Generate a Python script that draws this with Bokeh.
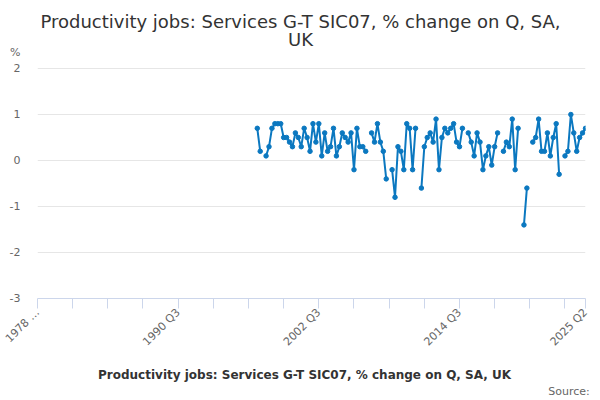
import math
import numpy as np
from bokeh.plotting import figure
from bokeh.layouts import column
from bokeh.models import Range1d, FixedTicker, Legend, LegendItem, ColumnDataSource
from bokeh.core.properties import value
from bokeh.embed import file_html
from bokeh.resources import INLINE

# ---------------- data ----------------
title_line1 = "Productivity jobs: Services G-T SIC07, % change on Q, SA,"
title_line2 = "UK"
series_name = "Productivity jobs: Services G-T SIC07, % change on Q, SA, UK"
y_unit_label = "%"
source_text = "Source:"

axis_first_quarter = (1978, 3)
axis_last_quarter = (2025, 2)
series_first_quarter = (1997, 2)

# % change on quarter, 1997 Q2 .. 2025 Q2 (None = no value plotted)
values = [
    0.7, 0.2, None, 0.1, 0.3, 0.7, 0.8, 0.8, 0.8, 0.5,
    0.5, 0.4, 0.3, 0.6, 0.5, 0.3, 0.7, 0.5, 0.2, 0.8,
    0.4, 0.8, 0.1, 0.6, 0.2, 0.3, 0.7, 0.1, 0.3, 0.6,
    0.5, 0.4, 0.6, -0.2, 0.7, 0.3, 0.3, 0.2, None, 0.6,
    0.4, 0.8, 0.4, 0.2, -0.4, None, -0.2, -0.8, 0.3, 0.2,
    -0.2, 0.8, 0.7, -0.2, 0.7, None, -0.6, 0.3, 0.5, 0.6,
    0.4, 0.9, -0.2, 0.5, 0.7, 0.6, 0.7, 0.8, 0.4, 0.3,
    0.7, None, 0.6, 0.4, 0.1, 0.6, 0.4, -0.2, 0.1, 0.3,
    -0.1, 0.3, 0.6, None, 0.2, 0.4, 0.3, 0.9, -0.2, 0.7,
    None, -1.4, -0.6, None, 0.4, 0.5, 0.9, 0.2, 0.2, 0.6,
    0.1, 0.5, 0.8, -0.3, None, 0.1, 0.2, 1.0, 0.6, 0.2,
    0.5, 0.6, 0.7,
]

y_ticks = [-3, -2, -1, 0, 1, 2]
y_tick_labels = ["-3", "-2", "-1", "0", "1", "2"]
x_tick_step_quarters = 12
x_label_quarters = [(1978, 3), (1990, 3), (2002, 3), (2014, 3), (2025, 2)]
x_label_texts = ["1978 \u2026", "1990 Q3", "2002 Q3", "2014 Q3", "2025 Q2"]

# ---------------- styling / layout (page pixels) ----------------
BLUE = "#0b78c0"
TEXT_DARK = "#333333"
TEXT_GREY = "#666666"
GRID = "#e6e6e6"
AXIS = "#ccd6eb"
FONT = "DejaVu Sans"
PAGE_W = 600
MAIN_H = 360
BOT_H = 40
FRAME_L, FRAME_R = 37, 585          # plot area left/right
GRID_TOP_PX, FRAME_B_PX = 68, 298   # pixel rows of top gridline and x axis


def qindex(year, q):
    return (year - axis_first_quarter[0]) * 4 + (q - axis_first_quarter[1])


last_idx = qindex(*axis_last_quarter)
start_idx = qindex(*series_first_quarter)
xs = np.arange(start_idx, start_idx + len(values), dtype=float)
ys = np.array([np.nan if v is None else v for v in values], dtype=float)
source = ColumnDataSource(dict(x=xs, y=ys))

y_min, y_max = min(y_ticks), max(y_ticks)
px_per_unit = (FRAME_B_PX - GRID_TOP_PX) / (y_max - y_min)
y_top = y_max + GRID_TOP_PX / px_per_unit   # frame reaches the top of the page


def dx(page_x):
    return (page_x - FRAME_L) / (FRAME_R - FRAME_L) * last_idx


def dy(page_y):
    return y_max + (GRID_TOP_PX - page_y) / px_per_unit


# ---------------- main chart ----------------
p = figure(width=PAGE_W, height=MAIN_H, output_backend="svg", toolbar_location=None,
           x_range=Range1d(0, last_idx), y_range=Range1d(y_min, y_top),
           min_border_left=FRAME_L, min_border_right=PAGE_W - FRAME_R,
           min_border_top=0, min_border_bottom=MAIN_H - FRAME_B_PX)
p.outline_line_color = None
p.background_fill_color = "white"
p.border_fill_color = "white"

p.xgrid.visible = False
p.ygrid.ticker = FixedTicker(ticks=y_ticks)
p.ygrid.grid_line_color = GRID
p.ygrid.grid_line_width = 1

unit_tick = round(dy(52), 2)
p.yaxis.ticker = FixedTicker(ticks=y_ticks + [unit_tick])
y_over = {t: s for t, s in zip(y_ticks, y_tick_labels)}
y_over[unit_tick] = y_unit_label
p.yaxis.major_label_overrides = y_over
p.yaxis.axis_line_color = None
p.yaxis.major_tick_line_color = None
p.yaxis.minor_tick_line_color = None
p.yaxis.major_tick_out = 0
p.yaxis.major_tick_in = 0
p.yaxis.major_label_standoff = 17
p.yaxis.major_label_text_font = FONT
p.yaxis.major_label_text_font_size = "11px"
p.yaxis.major_label_text_color = TEXT_GREY

x_ticks = list(range(0, last_idx + 1, x_tick_step_quarters))
if x_ticks[-1] != last_idx:
    x_ticks.append(last_idx)
overrides = {t: "" for t in x_ticks}
for q, txt in zip(x_label_quarters, x_label_texts):
    overrides[qindex(*q)] = txt
p.xaxis.ticker = FixedTicker(ticks=x_ticks)
p.xaxis.major_label_overrides = overrides
p.xaxis.major_label_orientation = math.pi / 4
p.xaxis.axis_line_color = AXIS
p.xaxis.major_tick_line_color = AXIS
p.xaxis.minor_tick_line_color = None
p.xaxis.major_tick_out = 10
p.xaxis.major_tick_in = 0
p.xaxis.major_label_standoff = 2
p.xaxis.major_label_text_font = FONT
p.xaxis.major_label_text_font_size = "11px"
p.xaxis.major_label_text_color = TEXT_GREY

p.line("x", "y", source=source, line_color=BLUE, line_width=2)
p.scatter("x", "y", source=source, size=4.5, fill_color=BLUE, line_color=BLUE)

# title inside the (tall) frame area above the gridlines
p.text(x=[dx(300), dx(300)], y=[dy(21), dy(39)], text=[title_line1, title_line2],
       text_align="center", text_baseline="middle", text_font=value(FONT),
       text_font_size=value("18px"), text_color=TEXT_DARK)

# ---------------- footer (legend + source) ----------------
BOT_FRAME_B = 383
p_bot = figure(width=PAGE_W, height=BOT_H, output_backend="svg", toolbar_location=None,
               x_range=Range1d(FRAME_L, FRAME_R), y_range=Range1d(0, 1),
               y_axis_location=None,
               min_border_left=FRAME_L, min_border_right=PAGE_W - FRAME_R,
               min_border_top=0, min_border_bottom=MAIN_H + BOT_H - BOT_FRAME_B)
p_bot.xgrid.visible = False
p_bot.ygrid.visible = False
p_bot.outline_line_color = None
p_bot.background_fill_color = "white"
p_bot.border_fill_color = "white"

source_center = 568.5
p_bot.xaxis.ticker = FixedTicker(ticks=[source_center])
p_bot.xaxis.major_label_overrides = {source_center: source_text}
p_bot.xaxis.axis_line_color = None
p_bot.xaxis.major_tick_line_color = None
p_bot.xaxis.minor_tick_line_color = None
p_bot.xaxis.major_tick_out = 0
p_bot.xaxis.major_tick_in = 0
p_bot.xaxis.major_label_standoff = 2
p_bot.xaxis.major_label_text_font = FONT
p_bot.xaxis.major_label_text_font_size = "11px"
p_bot.xaxis.major_label_text_color = TEXT_GREY

empty = ColumnDataSource(dict(x=[], y=[]))
leg_line = p_bot.line("x", "y", source=empty, line_color=BLUE, line_width=2)
leg_pts = p_bot.scatter("x", "y", source=empty, size=4.5, fill_color=BLUE, line_color=BLUE)
legend = Legend(items=[LegendItem(label=series_name, renderers=[leg_line, leg_pts])],
                location=(78 - FRAME_L, 0), orientation="horizontal",
                padding=0, margin=0, spacing=0,
                glyph_width=16, glyph_height=12, label_standoff=4,
                label_text_font=FONT, label_text_font_size="12px",
                label_text_font_style="bold", label_text_color=TEXT_DARK,
                border_line_color=None, background_fill_alpha=0)
p_bot.add_layout(legend)

layout = column(p, p_bot, spacing=0)
open("out.html", "w").write(file_html(layout, INLINE))
